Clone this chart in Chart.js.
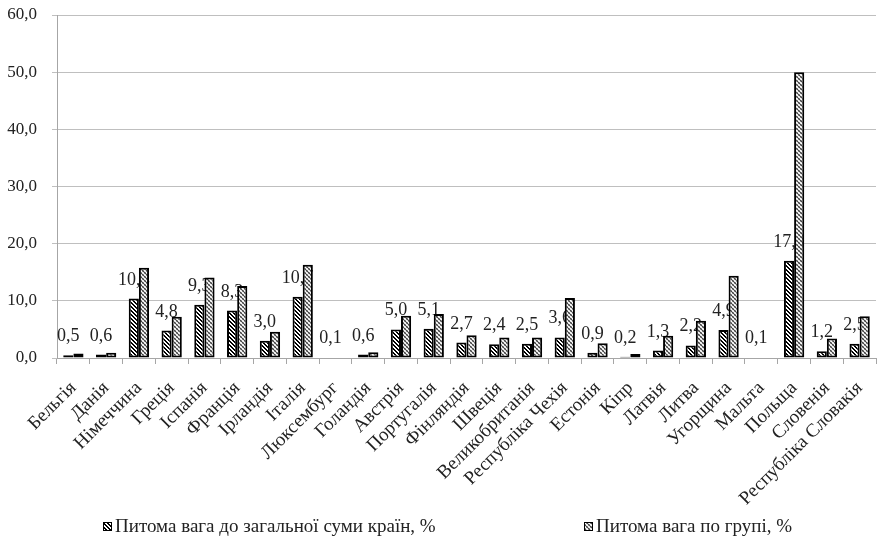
<!DOCTYPE html>
<html>
<head>
<meta charset="utf-8">
<script src="https://cdn.jsdelivr.net/npm/chart.js@4"></script>
<style>
  html, body { margin: 0; padding: 0; background: #fff; }
  #wrap { width: 877px; height: 550px; position: relative; }
</style>
</head>
<body>
<div id="wrap"><canvas id="chart"></canvas></div>
<script>
// data
const countries = ['Бельгія', 'Данія', 'Німеччина', 'Греція', 'Іспанія', 'Франція', 'Ірландія', 'Італія',
  'Люксембург', 'Голандія', 'Австрія', 'Португалія', 'Фінляндія', 'Швеція', 'Великобританія',
  'Республіка Чехія', 'Естонія', 'Кіпр', 'Латвія', 'Литва', 'Угорщина', 'Мальта', 'Польща',
  'Словенія', 'Республіка Словакія'];
const shareTotal = [0.5, 0.6, 10.4, 4.8, 9.3, 8.3, 3.0, 10.7, 0.1, 0.6, 5.0, 5.1, 2.7, 2.4, 2.5,
  3.6, 0.9, 0.2, 1.3, 2.2, 4.9, 0.1, 17.0, 1.2, 2.5];
const shareGroup = [0.8, 0.9, 15.8, 7.2, 14.1, 12.6, 4.6, 16.3, 0.1, 1.0, 7.4, 7.7, 4.0, 3.6, 3.6,
  10.5, 2.6, 0.7, 3.9, 6.5, 14.4, 0.1, 50.0, 3.4, 7.3];
const seriesNames = ['Питома вага до загальної суми країн, %', 'Питома вага по групі, %'];
const yTicks = [0, 10, 20, 30, 40, 50, 60];

const FONT = '"Liberation Serif", "Times New Roman", serif';
const fmt = v => v.toFixed(1).replace('.', ',');

// fill patterns like the excel ones
function makePattern(fn) {
  const c = document.createElement('canvas');
  c.width = c.height = 4;
  const g = c.getContext('2d');
  for (let y = 0; y < 4; y++) {
    for (let x = 0; x < 4; x++) {
      g.fillStyle = fn(x, y);
      g.fillRect(x, y, 1, 1);
    }
  }
  return g.createPattern(c, 'repeat');
}
const hatch = makePattern((x, y) => ((x - y + 8) % 4) < 2 ? '#000' : '#fff');
// small checkerboard, grey blocks next to light ones
const checker = makePattern((x, y) => {
  const dark = ((x >> 1) + (y >> 1)) % 2 === 0;
  if (dark) return (x + y) % 2 === 0 ? '#444' : '#8c8c8c';
  return (x + y) % 2 === 0 ? '#fff' : '#d0d0d0';
});

// value labels for the first series, drawn under the bars
const valueLabels = {
  id: 'valueLabels',
  beforeDatasetsDraw(chart) {
    const ctx = chart.ctx;
    const meta = chart.getDatasetMeta(0);
    ctx.save();
    ctx.font = '18px ' + FONT;
    ctx.fillStyle = '#222';
    ctx.textAlign = 'center';
    ctx.textBaseline = 'alphabetic';
    meta.data.forEach((bar, i) => {
      ctx.fillText(fmt(shareTotal[i]), bar.x, bar.y - 14);
    });
    ctx.restore();
  }
};

// legend at the bottom with wide gap between items
const bottomLegend = {
  id: 'bottomLegend',
  afterDraw(chart) {
    const ctx = chart.ctx;
    const items = [
      { x: 103, fill: hatch, text: seriesNames[0] },
      { x: 584, fill: checker, text: seriesNames[1] }
    ];
    const y = 527;
    ctx.save();
    ctx.font = '19px ' + FONT;
    ctx.textBaseline = 'middle';
    items.forEach(it => {
      ctx.fillStyle = it.fill;
      ctx.fillRect(it.x, y - 5, 9, 9);
      ctx.strokeStyle = '#000';
      ctx.lineWidth = 1;
      ctx.strokeRect(it.x + 0.5, y - 4.5, 8, 8);
      ctx.fillStyle = '#222';
      ctx.fillText(it.text, it.x + 12, y);
    });
    ctx.restore();
  }
};

new Chart(document.getElementById('chart'), {
  type: 'bar',
  data: {
    labels: countries,
    datasets: [
      { label: seriesNames[0], data: shareTotal, backgroundColor: hatch, borderColor: '#000',
        borderWidth: 2, borderSkipped: false, barPercentage: 1, categoryPercentage: 0.62 },
      { label: seriesNames[1], data: shareGroup, backgroundColor: checker, borderColor: '#000',
        borderWidth: 2, borderSkipped: false, barPercentage: 1, categoryPercentage: 0.62 }
    ]
  },
  options: {
    responsive: true,
    maintainAspectRatio: false,
    animation: false,
    layout: { padding: { top: 0, left: 6, right: 1, bottom: 42 } },
    plugins: {
      legend: { display: false },
      tooltip: { enabled: false }
    },
    scales: {
      x: {
        offset: true,
        grid: { drawOnChartArea: false, color: '#a6a6a6', tickLength: 6, offset: true },
        border: { color: '#a6a6a6' },
        ticks: {
          autoSkip: false, minRotation: 45, maxRotation: 45, padding: 13,
          color: '#222', font: { family: FONT, size: 19 }
        },
        afterFit(scale) {
          scale.height = 150;
          scale.paddingLeft = 0;
          scale.paddingRight = 0;
        }
      },
      y: {
        min: 0, max: 60,
        afterBuildTicks(scale) { scale.ticks = yTicks.map(v => ({ value: v })); },
        grid: { color: '#bfbfbf', tickLength: 5 },
        border: { color: '#a6a6a6' },
        ticks: {
          padding: 15, color: '#222', font: { family: FONT, size: 17 },
          callback: v => fmt(v)
        },
        afterFit(scale) {
          scale.width = 51;
          scale.paddingTop = 15;
          scale.paddingBottom = 0;
        }
      }
    }
  },
  plugins: [valueLabels, bottomLegend]
});
</script>
</body>
</html>
